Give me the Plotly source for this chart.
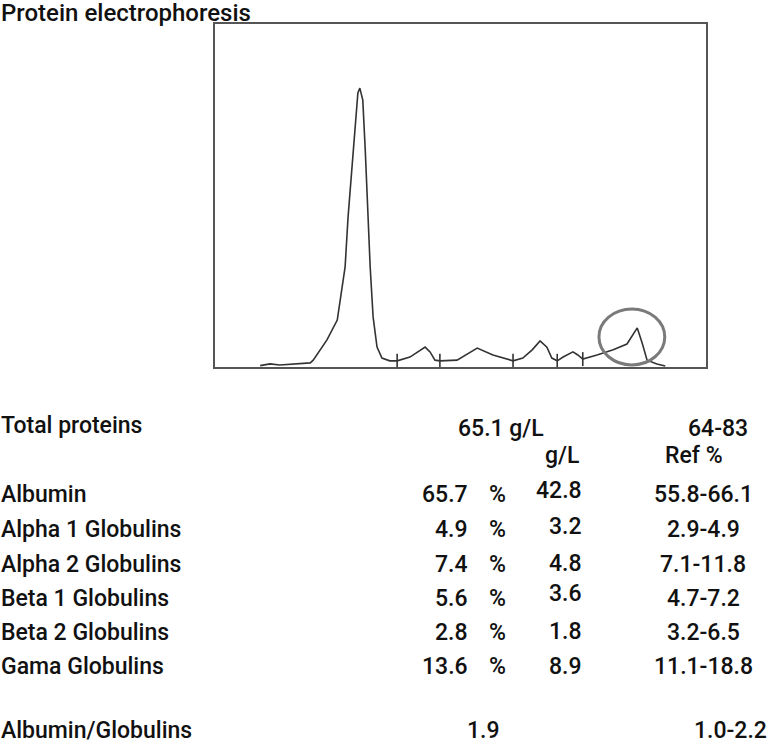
import plotly.graph_objects as go

# ---------------- data ----------------
# densitometry trace (relative mobility 0-100, relative absorbance 0-100)
mobility = [9.2, 11.2, 13.2, 16.3, 19.4, 20.0, 22.8, 24.9, 25.5, 26.5, 27.1, 27.9, 28.5, 29.1, 29.5,
            30.1, 30.6, 31.0, 31.6, 32.2, 33.0, 34.0, 35.6, 37.1, 39.7, 42.8, 43.8, 44.8, 45.8,
            49.3, 53.4, 56.6, 60.7, 62.7, 64.6, 66.2, 67.6, 68.6, 69.7, 70.9, 72.9, 73.9, 74.9,
            77.8, 81.1, 83.9, 86.0, 87.0, 88.0, 90.0, 91.7]
intensity = [0.4, 0.9, 0.6, 0.9, 1.2, 2.0, 7.9, 13.7, 19.5, 29.2, 43.7, 58.3, 68.2, 79.9, 81.3,
             77.8, 63.3, 48.7, 29.2, 14.6, 5.8, 2.6, 1.8, 1.8, 2.9, 5.8, 4.4, 2.0, 1.8,
             2.0, 5.5, 3.5, 1.8, 2.6, 5.0, 7.6, 5.8, 2.6, 1.8, 2.9, 4.4, 3.5, 2.3,
             3.5, 5.0, 6.7, 11.4, 7.0, 2.0, 0.9, 0.3]
fraction_bounds = [37.1, 45.8, 60.7, 69.7, 74.9]
bound_level = [1.8, 1.8, 1.8, 1.8, 2.3]
# highlighted region (ellipse) in data units
circle_x = [78.2, 91.6]
circle_y = [0.6, 16.9]

# table
fractions = ["Albumin", "Alpha 1 Globulins", "Alpha 2 Globulins",
             "Beta 1 Globulins", "Beta 2 Globulins", "Gama Globulins"]
percent = ["65.7", "4.9", "7.4", "5.6", "2.8", "13.6"]
grams = ["42.8", "3.2", "4.8", "3.6", "1.8", "8.9"]
ref_percent = ["55.8-66.1", "2.9-4.9", "7.1-11.8", "4.7-7.2", "3.2-6.5", "11.1-18.8"]
total_label = "Total proteins"
total_value = "65.1 g/L"
total_ref = "64-83"
ratio_label = "Albumin/Globulins"
ratio_value = "1.9"
ratio_ref = "1.0-2.2"

# ---------------- figure ----------------
W, H = 771, 746
FONT = "Roboto, Liberation Sans, sans-serif"
FS = 23
TXT = "#111111"

def px(x):
    return x / W

def py(y):
    return 1 - y / H

fig = go.Figure()
fig.add_trace(go.Scatter(x=mobility, y=intensity, mode="lines",
                         line=dict(color="#333333", width=1.6), hoverinfo="skip"))
fig.add_trace(go.Scatter(x=fraction_bounds, y=bound_level, mode="markers",
                         marker=dict(symbol="line-ns-open", size=10, color="#333333",
                                     line=dict(color="#333333", width=1.6)),
                         hoverinfo="skip"))

fig.add_shape(type="circle", xref="x", yref="y",
              x0=circle_x[0], x1=circle_x[1], y0=circle_y[0], y1=circle_y[1],
              line=dict(color="#7a7a7a", width=3))

ann = []
def t(text, x, y, anchor="left", size=FS):
    ann.append(dict(text=text, x=px(x), y=py(y), xref="paper", yref="paper",
                    xanchor=anchor, yanchor="middle", showarrow=False, borderpad=0,
                    font=dict(family=FONT, size=size, color=TXT, weight=500)))

t("Protein electrophoresis", 0, 13, size=24)
t(total_label, 0, 425)
t(total_value, 501, 428, "center")
t(total_ref, 718, 428, "center")
t("g/L", 562, 455, "center")
t("Ref %", 694, 455, "center")

row_y = [494, 529, 564, 598, 632, 666]
gl_dy = [-4, -3, -1, -5, -1, 0]
for i, name in enumerate(fractions):
    y = row_y[i]
    t(name, 0, y)
    t(percent[i], 469, y, "right")
    t("%", 497, y, "center")
    t(grams[i], 583, y + gl_dy[i], "right")
    t(ref_percent[i], 703, y, "center")

t(ratio_label, 0, 730)
t(ratio_value, 483, 730, "center")
t(ratio_ref, 730, 730, "center")

fig.update_layout(
    width=W, height=H, autosize=False,
    margin=dict(l=0, r=0, t=0, b=0),
    paper_bgcolor="white", plot_bgcolor="white",
    showlegend=False,
    annotations=ann,
    xaxis=dict(domain=[215 / W, 706 / W], range=[0, 100], showgrid=False, zeroline=False,
               showticklabels=False, ticks="", showline=True, mirror=True,
               linecolor="#555555", linewidth=2, fixedrange=True),
    yaxis=dict(domain=[1 - 367 / H, 1 - 24 / H], range=[0, 100], showgrid=False, zeroline=False,
               showticklabels=False, ticks="", showline=True, mirror=True,
               linecolor="#555555", linewidth=2, fixedrange=True),
)

fig.write_html("out.html", config={"displayModeBar": False},
               post_script="document.body.style.margin='0';document.body.style.overflow='hidden';")
